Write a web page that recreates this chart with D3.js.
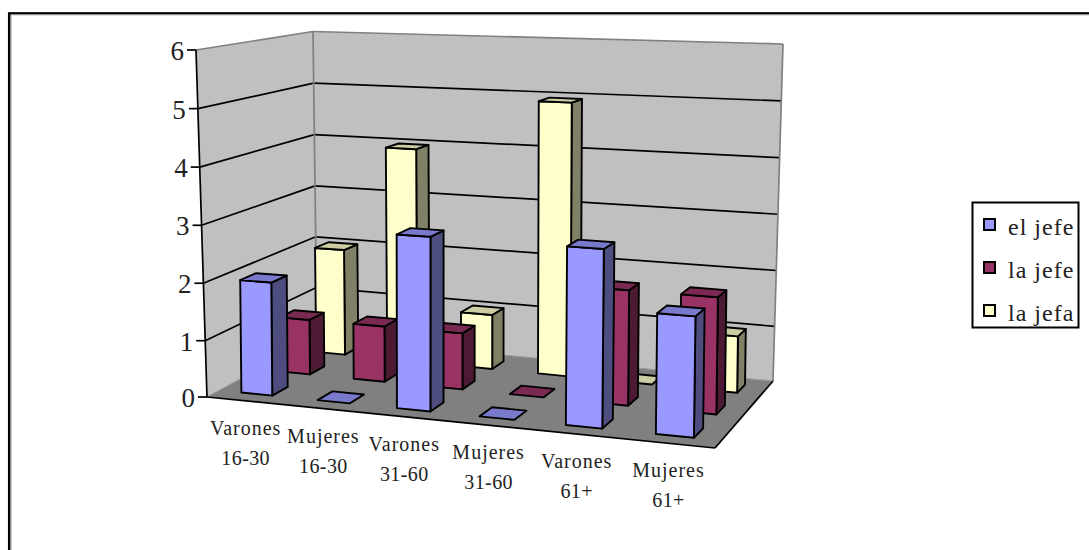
<!DOCTYPE html>
<html><head><meta charset="utf-8">
<script src="https://d3js.org/d3.v7.min.js"></script>
<style>html,body{margin:0;padding:0;background:#fff;overflow:hidden}svg{display:block}text{font-family:"Liberation Serif",serif;fill:#222}</style>
</head><body><svg id="c" width="1089" height="550"></svg>
<script>
const categories=[["Varones","16-30"],["Mujeres","16-30"],["Varones","31-60"],["Mujeres","31-60"],["Varones","61+"],["Mujeres","61+"]];
const seriesNames=["el jefe","la jefe","la jefa"];
const elJefe=[2,0,3,0,3,2];
const laJefe=[1,1,1,0,2,2];
const laJefa=[2,4,1,5,0,1];
const seriesValues=[elJefe,laJefe,laJefa];
const valueTicks=[0,1,2,3,4,5,6];
const front=["#9999FF","#993366","#FFFFCC"],side=["#4D4D80","#4D1A33","#808066"],top_=["#7A7ACC","#7A2952","#CCCCA3"];
const svg=d3.select("#c");
const U=d3.scaleBand().domain(d3.range(categories.length)).range([0,1]);
const V=d3.scaleBand().domain(d3.range(seriesNames.length)).range([0,1]);
const H=d3.scalePow().exponent(1.015).domain([0,6]).range([0,1]);
// plot box corners on screen (f=front,b=back,l=left,r=right)
const bot={fl:[207,397],fr:[715,448],br:[773,381],bl:[317,337]};
const topC={fl:[196,50],fr:[726,70],br:[783,44],bl:[313,31.5]};
const barFloor={fl:[207,397],fr:[715,448],br:[776,381],bl:[320,337]};
function homog(q){
  const [x0,y0]=q.fl,[x1,y1]=q.fr,[x2,y2]=q.br,[x3,y3]=q.bl;
  const dx1=x1-x2,dx2=x3-x2,sx=x0-x1+x2-x3,dy1=y1-y2,dy2=y3-y2,sy=y0-y1+y2-y3;
  const den=dx1*dy2-dx2*dy1,g=(sx*dy2-dx2*sy)/den,h=(dx1*sy-sx*dy1)/den;
  const a=x1-x0+g*x1,b=x3-x0+h*x3,d=y1-y0+g*y1,e=y3-y0+h*y3;
  return (u,v)=>{const w=g*u+h*v+1;return[(a*u+b*v+x0)/w,(d*u+e*v+y0)/w];};
}
const hb=homog(bot),ht=homog(topC),hf=homog(barFloor);
// walls
function P(u,v,val){const t=H(val),a=hb(u,v),b=ht(u,v);return[a[0]+(b[0]-a[0])*t,a[1]+(b[1]-a[1])*t];}
// bars: foreshortening along the category axis, and nearly upright sides
const warp=u=>0.9063*u/(1-0.0937*u);
function B(u,v,val){const a=hf(warp(u),v),k=56.6+5*u-6.4*v;return[a[0]+(val/6)*(-4+9*u),a[1]-val*k];}
const line=d3.line();
function poly(pts,fill,stroke,sw){svg.append("path").attr("d",line(pts)+"Z").attr("fill",fill).attr("stroke",stroke||"none").attr("stroke-width",sw||0).attr("stroke-linejoin","round");}
const L=(a,b,c,w)=>svg.append("path").attr("d",line([a,b])).attr("stroke",c).attr("stroke-width",w).attr("fill","none");
// frame
svg.append("rect").attr("x",9.2).attr("y",13.4).attr("width",1100).attr("height",560).attr("fill","#fff").attr("stroke","#000").attr("stroke-width",2.5);
L([11,15],[1089,15],"#c8c8c8",1);L([11,15],[11,550],"#999",1);
// walls
poly([P(0,0,0),P(0,1,0),P(0,1,6),P(0,0,6)],"#C0C0C0");
poly([P(0,1,0),P(1,1,0),P(1,1,6),P(0,1,6)],"#C0C0C0");
poly([P(0,0,0),P(1,0,0),P(1,1,0),P(0,1,0)],"#808080");
valueTicks.slice(1,-1).forEach(t=>{L(P(0,0,t),P(0,1,t),"#000",1.7);L(P(0,1,t),P(1,1,t),"#000",1.7);});
L(P(0,0,6),P(0,1,6),"#808080",1.7);L(P(0,1,6),P(1,1,6),"#808080",1.7);L(P(0,1,0),P(0,1,6),"#808080",1.7);L(P(1,1,0),P(1,1,6),"#808080",1.7);
L(P(0,1,0),P(1,1,0),"#999",1);L(P(0,0,0),P(0,1,0),"#999",1);
L(P(0,0,0),P(0,0,6),"#000",1.7);L(P(0,0,0),P(1,0,0),"#000",1.7);L(P(1,0,0),P(1,1,0),"#000",1.7);
valueTicks.forEach(t=>{const p=P(0,0,t);L([p[0]-9,p[1]],p,"#000",1.7);
  svg.append("text").attr("x",p[0]-12).attr("y",p[1]+10).attr("text-anchor","end").attr("font-size",27).text(t);});
// bars: each fills about 0.4 of its band (gap 150%)
const fracU=0.41,fracV=0.4;
for(let s=seriesNames.length-1;s>=0;s--){
 categories.forEach((c,i)=>{
  const val=seriesValues[s][i];
  const u0=U(i)+U.bandwidth()*(1-fracU)/2,u1=u0+U.bandwidth()*fracU;
  const v0=V(s)+V.bandwidth()*(1-fracV)/2,v1=v0+V.bandwidth()*fracV;
  if(val>0){
   poly([B(u1,v0,0),B(u1,v1,0),B(u1,v1,val),B(u1,v0,val)],side[s],"#000",1.9);
   poly([B(u0,v0,0),B(u1,v0,0),B(u1,v0,val),B(u0,v0,val)],front[s],"#000",1.9);
  }
  poly([B(u0,v0,val),B(u1,v0,val),B(u1,v1,val),B(u0,v1,val)],top_[s],"#000",1.9);
 });
}
// category labels
categories.forEach((c,i)=>{
 const p=B(U(i)+U.bandwidth()/2,0,0);
 c.forEach((t,k)=>svg.append("text").attr("x",p[0]+1).attr("y",p[1]+34+k*30).attr("text-anchor","middle").attr("font-size",20).attr("letter-spacing",k?0.4:1).text(t));
});
// legend
svg.append("rect").attr("x",972.5).attr("y",202.5).attr("width",106).attr("height",125).attr("fill","#fff").attr("stroke","#000").attr("stroke-width",2);
const LY=d3.scalePoint().domain(seriesNames).range([224.5,310.5]);
seriesNames.forEach((n,s)=>{
 const y=LY(n);
 svg.append("rect").attr("x",984).attr("y",y-5.5).attr("width",11).attr("height",11).attr("fill",front[s]).attr("stroke","#000").attr("stroke-width",2);
 svg.append("text").attr("x",1008).attr("y",y+10).attr("font-size",24).attr("letter-spacing",1).text(n);
});
</script></body></html>
